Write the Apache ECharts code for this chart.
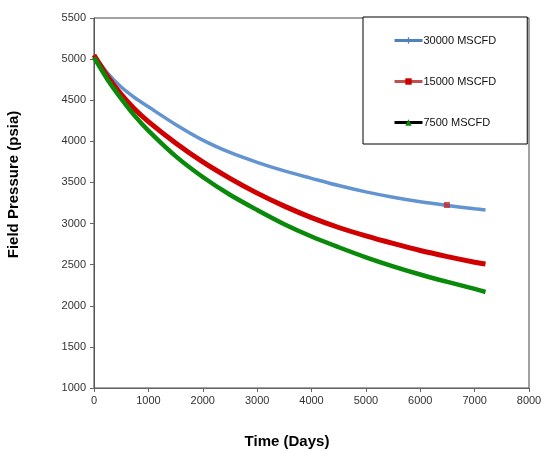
<html>
<head>
    <meta charset="utf-8" />
    <script src="https://cdn.jsdelivr.net/npm/echarts@6/dist/echarts.min.js"></script>
    <style>
        html, body { margin: 0; padding: 0; background: #fff; }
        #chart { width: 542px; height: 451px; }
    </style>
</head>
<body>
    <div id="chart"></div>
    <script>
        // days on the x axis
        var days = [0, 250, 500, 750, 1000, 1500, 2000, 2500, 3000, 3500,
            4000, 4500, 5000, 5500, 6000, 6500, 7000, 7200];
        // field pressure (psia) for each rate
        var rate30000 = [5050, 4830, 4660, 4530, 4420, 4205, 4015, 3865, 3745, 3640,
            3550, 3462, 3385, 3320, 3265, 3220, 3180, 3165];
        var rate15000 = [5050, 4790, 4570, 4390, 4240, 3980, 3750, 3550, 3370, 3212,
            3072, 2952, 2850, 2758, 2672, 2598, 2530, 2508];
        var rate7500 = [5020, 4750, 4520, 4310, 4130, 3820, 3566, 3350, 3165, 2992,
            2842, 2712, 2590, 2480, 2380, 2290, 2205, 2168];
        // lone red marker sitting on the blue curve
        var strayPoint = [[6490, 3226]];
        var seriesNames = ['30000 MSCFD', '15000 MSCFD', '7500 MSCFD'];

        var pairs = function (xs, ys) {
            return xs.map(function (x, i) { return [x, ys[i]]; });
        };
        var plain = function (v) { return String(v); };

        var chart = echarts.init(document.getElementById('chart'));
        var font = 'Liberation Sans, Arial, sans-serif';
        var plus = 'path://M4,0 L6,0 L6,4 L10,4 L10,6 L6,6 L6,10 L4,10 L4,6 L0,6 L0,4 L4,4 Z';

        var option = {
            animation: false,
            backgroundColor: '#fff',
            grid: {
                left: 94, right: 13, top: 18, bottom: 63,
                outerBoundsMode: 'none',
                containLabel: false,
                show: true, borderColor: '#444', borderWidth: 1
            },
            legend: {
                orient: 'vertical',
                left: 363, top: 17,
                padding: [18, 31, 16, 30],
                itemGap: 30,
                itemWidth: 28,
                itemHeight: 8,
                backgroundColor: '#fff',
                borderColor: '#000',
                borderWidth: 1,
                textStyle: { fontFamily: font, fontSize: 11, color: '#111', padding: [0, 0, 0, -4] },
                data: [
                    { name: seriesNames[0], itemStyle: { color: '#4F81BD' }, lineStyle: { color: '#4F81BD', width: 3 } },
                    { name: seriesNames[1], itemStyle: { color: '#CC0000' }, lineStyle: { color: '#C0504D', width: 3 } },
                    { name: seriesNames[2], itemStyle: { color: '#0A8A0A' }, lineStyle: { color: '#000', width: 3 } }
                ]
            },
            xAxis: {
                type: 'value',
                min: 0, max: 8000, interval: 1000,
                name: 'Time (Days)',
                nameLocation: 'middle',
                nameGap: 46,
                nameTextStyle: { fontFamily: font, fontSize: 15, fontWeight: 'bold', color: '#000', padding: [0, 49, 0, 0] },
                axisLine: { lineStyle: { color: '#666' } },
                axisTick: { show: true, length: 4, lineStyle: { color: '#666' } },
                axisLabel: { fontFamily: font, fontSize: 11, color: '#333', margin: 7, formatter: plain },
                splitLine: { show: false }
            },
            yAxis: {
                type: 'value',
                min: 1000, max: 5500, interval: 500,
                name: 'Field Pressure (psia)',
                nameLocation: 'middle',
                nameGap: 73,
                nameTextStyle: { fontFamily: font, fontSize: 15, fontWeight: 'bold', color: '#000', padding: [0, 0, 0, 37] },
                axisLine: { show: true, lineStyle: { color: '#555' } },
                axisTick: { show: true, length: 4, lineStyle: { color: '#666' } },
                axisLabel: { fontFamily: font, fontSize: 11, color: '#333', margin: 8, formatter: plain },
                splitLine: { show: false }
            },
            series: [
                {
                    name: seriesNames[0], type: 'line', smooth: 0.3,
                    data: pairs(days, rate30000),
                    symbol: plus, symbolSize: 5, showSymbol: false,
                    lineStyle: { color: '#6394D2', width: 3.5 },
                    itemStyle: { color: '#6394D2' }
                },
                {
                    name: seriesNames[1], type: 'line', smooth: 0.3,
                    data: pairs(days, rate15000),
                    symbol: 'rect', symbolSize: 6, showSymbol: false,
                    lineStyle: { color: '#D00000', width: 5 },
                    itemStyle: { color: '#D00000' }
                },
                {
                    name: seriesNames[2], type: 'line', smooth: 0.3,
                    data: pairs(days, rate7500),
                    symbol: 'triangle', symbolSize: 6, showSymbol: false,
                    lineStyle: { color: '#0A8A0A', width: 4.5 },
                    itemStyle: { color: '#0A8A0A' }
                },
                {
                    type: 'scatter',
                    data: strayPoint,
                    symbol: 'rect',
                    symbolSize: 6,
                    itemStyle: { color: '#C0282D' },
                    z: 5
                }
            ]
        };

        chart.setOption(option);
    </script>
</body>
</html>
